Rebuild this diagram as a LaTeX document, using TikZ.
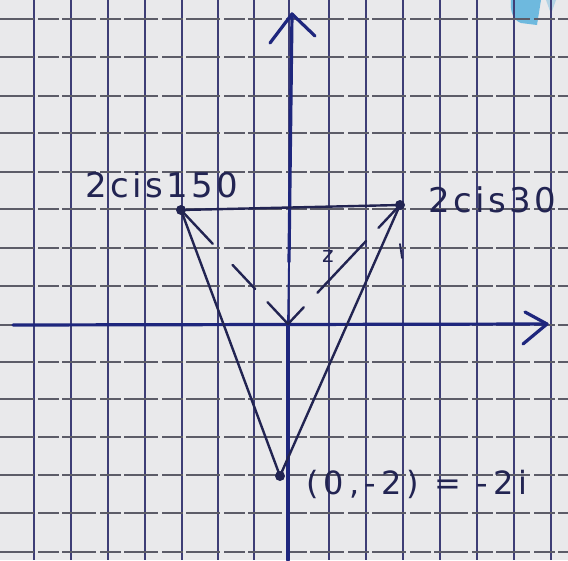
\documentclass[tikz,border=0pt]{standalone}
\usepackage{fontspec}
\newfontfamily\hand[LetterSpace=10]{DejaVu Sans}
\newfontfamily\handwide[LetterSpace=16]{DejaVu Sans}
\definecolor{paper}{RGB}{233,233,235}
\definecolor{vgridc}{RGB}{62,62,118}
\definecolor{hgridc}{RGB}{92,92,104}
\definecolor{axisc}{RGB}{30,38,125}
\definecolor{inkc}{RGB}{34,36,82}
\definecolor{blobc}{RGB}{110,185,222}
\begin{document}
\begin{tikzpicture}[x=1pt,y=-1pt,
  vgrid/.style={draw=vgridc,line width=1.7pt},
  hgrid/.style={draw=hgridc,line width=1.5pt,dash pattern=on 34pt off 4pt on 21pt off 3pt},
  axis/.style={draw=axisc,line width=3.2pt,line cap=round,line join=round},
  thinaxis/.style={draw=axisc,line width=1.8pt},
  pen/.style={draw=inkc,line width=2.4pt,line cap=round},
  dashA/.style={pen,dash pattern=on 30pt off 18pt on 33pt off 29pt on 60pt},
  dashB/.style={pen,dash pattern=on 23pt off 20pt on 71pt off 18pt on 60pt},
  dot/.style={circle,fill=inkc,inner sep=0pt,minimum size=10pt},
  handtext/.style={text=inkc,font=\hand\fontsize{34}{40}\selectfont,inner sep=0pt},
  smalltext/.style={text=inkc,font=\handwide\fontsize{32}{36}\selectfont,inner sep=0pt}]
\useasboundingbox (0,0) rectangle (568,560);
\fill[paper] (0,0) rectangle (568,560);
\fill[blobc] (511,0) .. controls (510,12) and (513,20) .. (521,23) -- (537,25) -- (541,0) -- cycle;
\fill[blobc!45!paper] (546,0) -- (556,0) -- (551,14) -- cycle;
% grid
\foreach \x in {34,71,108,145,182,218,254,289,329,366,403,440,477,514,551}
  \draw[vgrid] (\x,0) -- (\x,560);
\foreach \y in {19,57,96,133,172,209,248,286,325,362,399,437,475,513,552}
  \draw[hgrid] (0,\y) -- (568,\y);
% axes
\coordinate (xl) at (13,325);
\coordinate (xr) at (547,324);
\coordinate (xh1) at (525,312);
\coordinate (xh2) at (523,344);
\coordinate (yt) at (292,14);
\coordinate (yh1) at (270,43);
\coordinate (yh2) at (315,36);
\coordinate (ym) at (289,262);
\coordinate (O) at (288,324);
\coordinate (yb) at (288,560);
\draw[axis] (xl) -- (xr);
\draw[axis] (xh1) -- (xr) -- (xh2);
\draw[axis] (yt) -- (ym);
\draw[thinaxis] (ym) -- (O);
\draw[axis] (O) -- (yb);
\draw[axis] (yh1) -- (yt) -- (yh2);
% points
\node[dot] (A) at (181,210) {};
\node[dot] (B) at (400,205) {};
\node[dot] (C) at (280,476) {};
% triangle
\draw[pen] (A.center) -- (B.center);
\draw[pen] (C.center) -- (A.center);
\draw[pen] (C.center) -- (B.center);
% dashed vectors
\draw[dashA] (O) -- (A.center);
\draw[dashB] (O) -- (B.center);
% tick
\coordinate (t1) at (400,244);
\coordinate (t2) at (402,258);
\draw[pen,line width=1.8pt] (t1) -- (t2);
% labels
\node[handtext,anchor=base west] (lA) at (85,197) {2cis150};
\node[handtext,anchor=base west] (lB) at (428,212) {2cis30};
\node[smalltext,anchor=base west] (lC) at (306,494) {(0,-2) = -2i};
\node[text=inkc,font=\hand\fontsize{22}{26}\selectfont,inner sep=0pt] (lz) at (328,256) {z};
\end{tikzpicture}
\end{document}
